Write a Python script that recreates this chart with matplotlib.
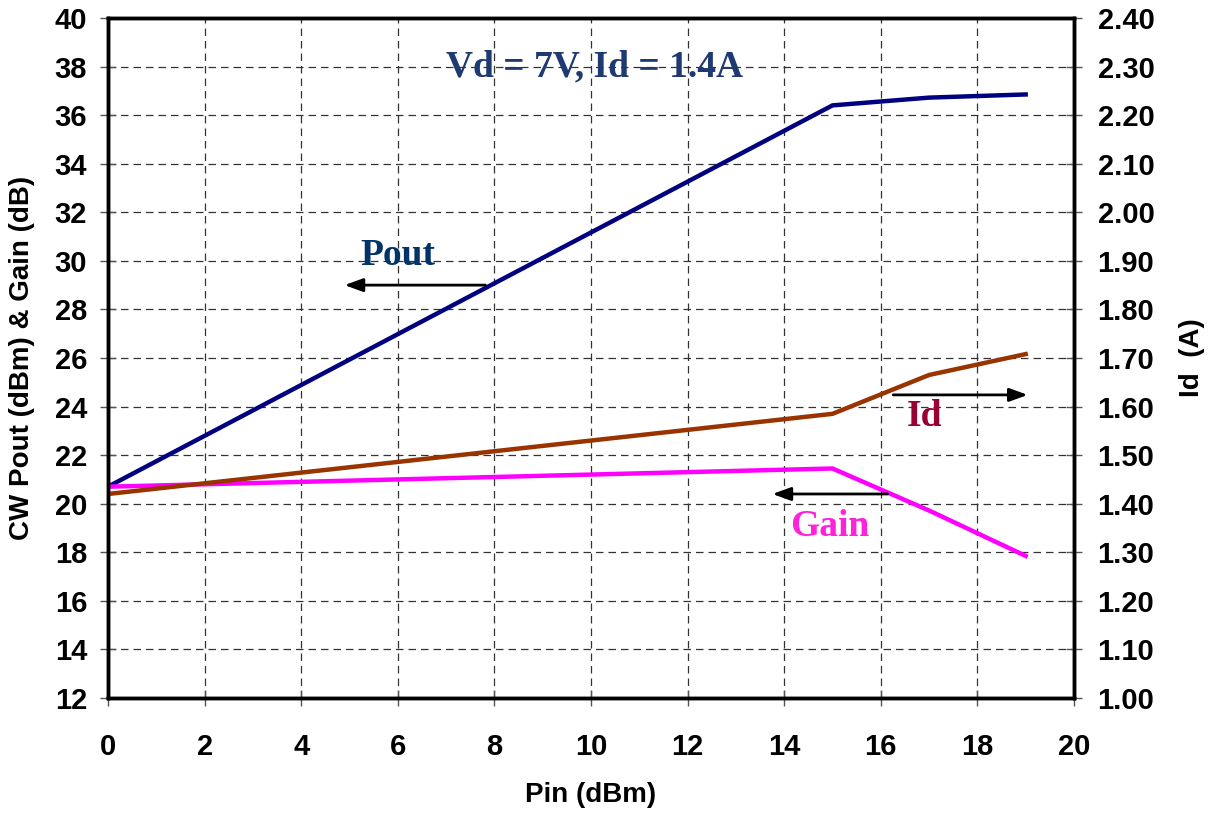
import numpy as np
import matplotlib.pyplot as plt

pin = [0, 15, 17, 19]
pout = [20.7, 36.4, 36.72, 36.85]
gain = [20.7, 21.45, 19.72, 17.85]
idrain = [1.42, 1.585, 1.665, 1.708]

sans = ['Liberation Sans', 'DejaVu Sans']
serif = ['Liberation Serif', 'DejaVu Serif']

fig = plt.figure(figsize=(12.2, 8.16), dpi=100)
ax = fig.add_axes([0.0885, 0.1446, 0.7918, 0.8334])
ax2 = ax.twinx()

ax.plot(pin, pout, color='#000080', lw=3.2)
ax.plot(pin, gain, color='#FF00FF', lw=3.2)
ax2.plot(pin, idrain, color='#993300', lw=3.2)

ax.set_xlim(0, 20)
ax.set_ylim(12, 40)
ax2.set_ylim(1.0, 2.4)
ax.set_xticks(np.arange(0, 21, 2))
ax.set_yticks(np.arange(12, 41, 2))
ax2.set_yticks(np.arange(1.0, 2.41, 0.1))
ax2.set_yticklabels([f'{v:.2f}' for v in np.arange(1.0, 2.41, 0.1)])

ax.grid(True, color='#333333', ls=(0, (6, 4)), lw=0.9)
for a in (ax, ax2):
    for s in a.spines.values():
        s.set_linewidth(2.5)
    a.tick_params(direction='inout', length=12, width=1, color='#555555', labelsize=21)
    for lab in a.get_xticklabels() + a.get_yticklabels():
        lab.set_fontweight('bold')
        lab.set_family(sans)
ax.tick_params(axis='x', pad=19)
ax.tick_params(axis='y', pad=9)
ax2.tick_params(axis='y', pad=11)

ax.set_xlabel('Pin (dBm)', fontsize=20, fontweight='bold', family=sans, va='center')
ax.xaxis.set_label_coords(0.5, -0.143)
ax.set_ylabel('CW Pout (dBm) & Gain (dB)', fontsize=20, fontweight='bold', family=sans, va='center')
ax.yaxis.set_label_coords(-0.089, 0.5)
ax2.set_ylabel('Id  (A)', fontsize=20, fontweight='bold', family=sans, va='center')
ax2.yaxis.set_label_coords(1.122, 0.5)

ax.text(10.08, 38.0, 'Vd = 7V, Id = 1.4A', color='#1F3A70', fontsize=27,
        fontweight='bold', family=serif, ha='center', va='center')
ax.text(6.0, 30.2, 'Pout', color='#003366', fontsize=27, fontweight='bold',
        family=serif, ha='center', va='center')
ax.text(16.9, 23.6, 'Id', color='#990033', fontsize=27, fontweight='bold',
        family=serif, ha='center', va='center')
ax.text(14.95, 19.05, 'Gain', color='#FF22DD', fontsize=27, fontweight='bold',
        family=serif, ha='center', va='center')

arrow = dict(arrowstyle='-|>,head_length=1.1,head_width=0.4', color='black', lw=2)
ax.annotate('', xy=(4.84, 29.0), xytext=(7.87, 29.0), arrowprops=arrow)
ax.annotate('', xy=(19.1, 24.48), xytext=(16.2, 24.48), arrowprops=arrow)
ax.annotate('', xy=(13.7, 20.4), xytext=(16.2, 20.4), arrowprops=arrow)

fig.savefig('out.png', dpi=100)
